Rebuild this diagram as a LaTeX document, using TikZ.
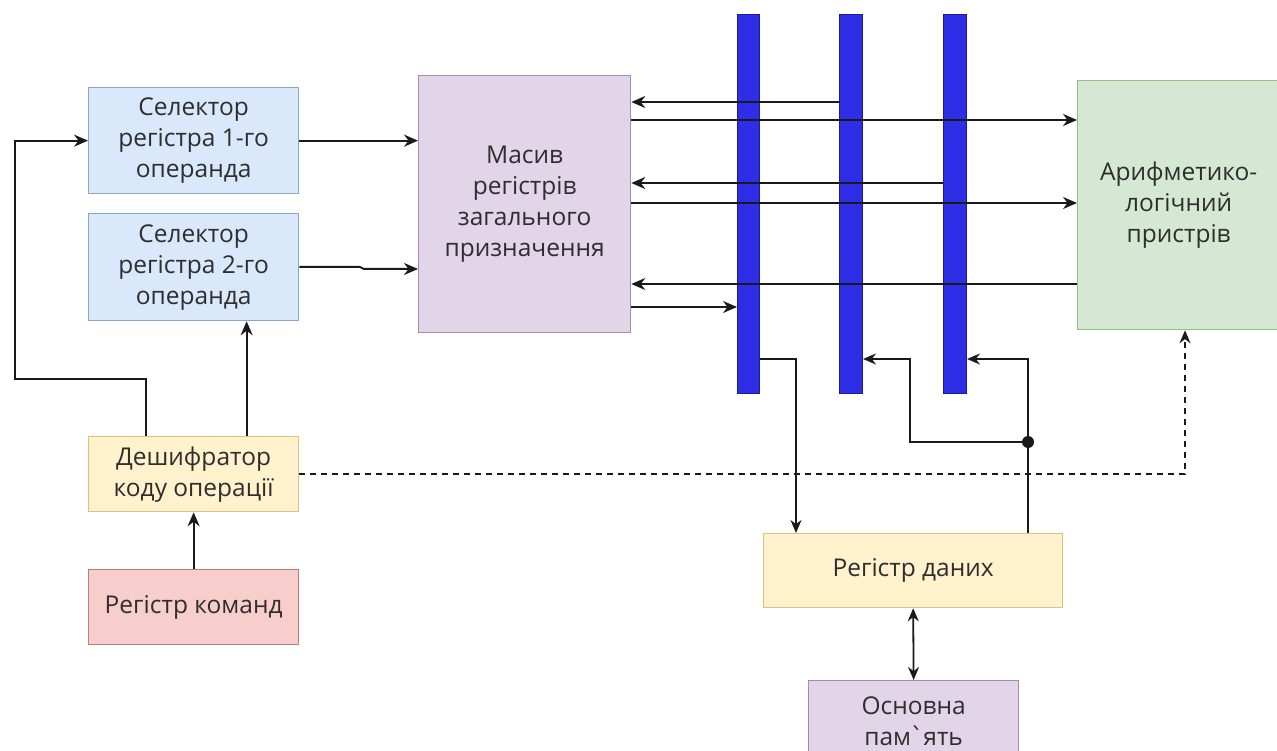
\documentclass[tikz,border=0pt]{standalone}
\usepackage{fontspec}
\setmainfont{Open Sans}
\newfontfamily\dvfont{DejaVu Sans}
\usetikzlibrary{arrows.meta}
\definecolor{selfill}{HTML}{DAE8FC}
\definecolor{selline}{HTML}{8EA6C4}
\definecolor{pfill}{HTML}{E1D5E7}
\definecolor{pline}{HTML}{A58BB3}
\definecolor{gfill}{HTML}{D5E8D4}
\definecolor{gline}{HTML}{97BD84}
\definecolor{yfill}{HTML}{FFF2CC}
\definecolor{yline}{HTML}{DCC27A}
\definecolor{rfill}{HTML}{F8CECC}
\definecolor{rline}{HTML}{C07A77}
\definecolor{busfill}{HTML}{2E2EE6}
\definecolor{busline}{HTML}{1C1C90}
\definecolor{txt}{HTML}{2E2E2E}
\definecolor{ln}{HTML}{1A1A1A}
\begin{document}
\begin{tikzpicture}[x=1pt,y=-1pt,
  box/.style={draw, line width=1.3pt, anchor=north west, align=center, inner sep=0pt,
    text=txt, font=\fontsize{24.5}{31}\selectfont},
  bus/.style={fill=busfill, draw=busline, line width=1pt, anchor=north west, inner sep=0pt},
  arr/.style={draw=ln, line width=2pt, -{Stealth[length=14pt,width=12pt]}},
  arrt/.style={draw=ln, line width=1.6pt, -{Stealth[length=13pt,width=11pt]}},
  dbl/.style={draw=ln, line width=1.8pt, {Stealth[length=13pt,width=11pt]}-{Stealth[length=13pt,width=11pt]}},
  dsh/.style={draw=ln, line width=1.7pt, dash pattern=on 6pt off 5pt, -{Stealth[length=13pt,width=11pt]}}
]
\useasboundingbox (0,0) rectangle (1277,751);
\clip (0,0) rectangle (1277,751);
\fill[white] (0,0) rectangle (1277,751);

% boxes
\node[box, fill=selfill, draw=selline, minimum width=210pt, minimum height=106pt] (s1) at (88,87) {Селектор\\регістра 1-го\\операнда};
\node[box, fill=selfill, draw=selline, minimum width=210pt, minimum height=107pt] (s2) at (88,213) {Селектор\\регістра 2-го\\операнда};
\node[box, fill=pfill, draw=pline, minimum width=212pt, minimum height=257pt] (m) at (418,75) {Масив\\регістрів\\загального\\призначення};
\node[box, fill=gfill, draw=gline, minimum width=202pt, minimum height=249pt, text width=200pt] (alu) at (1077,80) {Арифметико-\\логічний\\пристрів};
\node[box, fill=yfill, draw=yline, minimum width=210pt, minimum height=75pt] (dec) at (88,436) {Дешифратор\\коду операції};
\node[box, fill=rfill, draw=rline, minimum width=210pt, minimum height=75pt] (rk) at (88,569) {Регістр команд};
\node[box, fill=yfill, draw=yline, minimum width=299pt, minimum height=74pt] (dr) at (763,533) {Регістр даних};
\node[box, fill=pfill, draw=pline, minimum width=210pt, minimum height=82pt] (op) at (808,680) {Основна\\пам{\dvfont\symbol{"02CB}}ять};

% buses
\node[bus, minimum width=22pt, minimum height=379pt] (b1) at (737,14) {};
\node[bus, minimum width=23pt, minimum height=379pt] (b2) at (839,14) {};
\node[bus, minimum width=23pt, minimum height=379pt] (b3) at (943,14) {};

% helper coordinates
\coordinate (y1) at (0,102);
\coordinate (y2) at (0,120);
\coordinate (y3) at (0,183);
\coordinate (y4) at (0,203);
\coordinate (y5) at (0,284);
\coordinate (y6) at (0,307);
\coordinate (c1) at (796,359);
\coordinate (c2) at (910,359);
\coordinate (dot) at (1028,442);
\coordinate (c3) at (1185,475);
\coordinate (c4) at (15,379);
\coordinate (j1) at (360,267);
\coordinate (j2) at (364,269);

% left side
\draw[arr] (s1.east) -- (m.west |- s1.east);
\draw[arr] (s2.east |- j1) -- (j1) -- (j2) -- (m.west |- j2);
\draw[arr] ([xshift=-48pt]dec.north) |- (c4) |- (s1.west);
\draw[arr] ([xshift=53pt]dec.north) -- ([xshift=53pt]s2.south);
\draw[arr] (rk.north) -- (dec.south);

% bus lines
\draw[arr] (b2.west |- y1) -- (m.east |- y1);
\draw[arr] (m.east |- y2) -- (alu.west |- y2);
\draw[arr] (b3.west |- y3) -- (m.east |- y3);
\draw[arr] (m.east |- y4) -- (alu.west |- y4);
\draw[arr] (alu.west |- y5) -- (m.east |- y5);
\draw[arr] (m.east |- y6) -- (b1.west |- y6);

% bottom
\draw[arrt] (b1.east |- c1) -| (dr.north -| c1);
\draw[arrt] (dr.north -| dot) |- (b3.east |- c1);
\draw[arrt] (dot) -| (c2) -- (b2.east |- c2);
\fill[ln] (dot) circle (6pt);
\draw[dsh] (dec.east) -| (alu.south -| c3);
\draw[dbl] (dr.south) -- (op.north);
\end{tikzpicture}
\end{document}
